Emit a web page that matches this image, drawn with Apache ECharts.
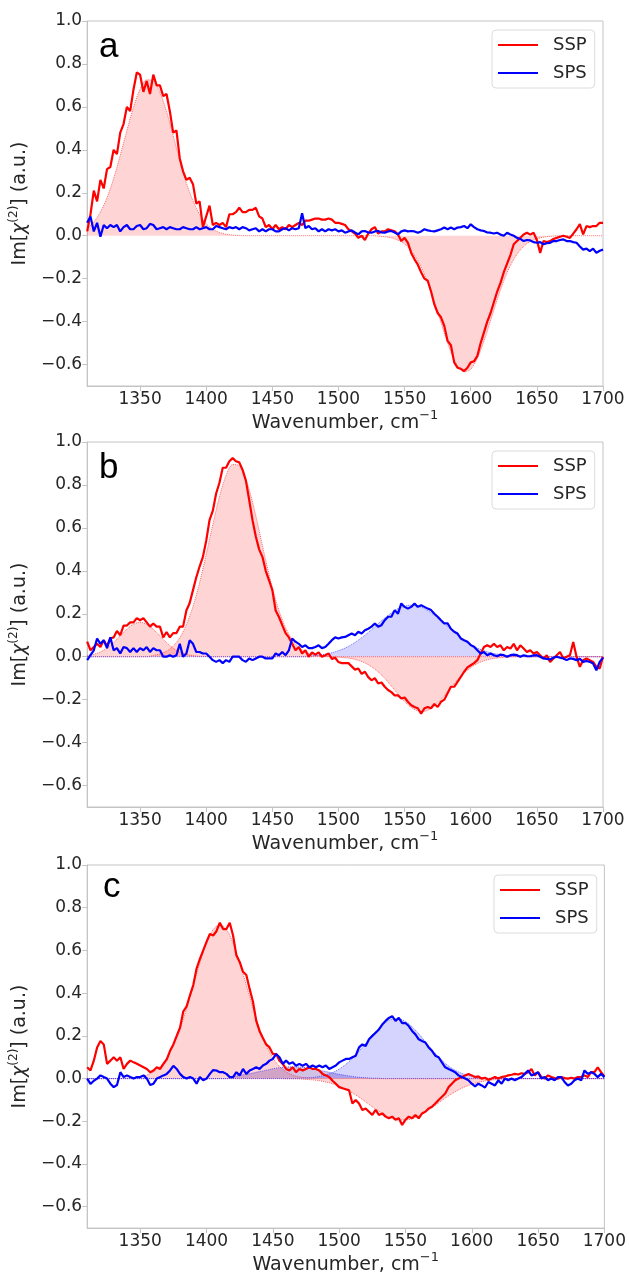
<!DOCTYPE html>
<html><head><meta charset="utf-8">
<script src="https://cdn.jsdelivr.net/npm/echarts@6/dist/echarts.min.js"></script>
<style>html,body{margin:0;padding:0;background:#fff}#chart{width:629px;height:1276px}</style>
</head><body><div id="chart"></div>
<script>
// ---- sampling of the spectra (cm^-1) ----
const WN_START = 1310, WN_STEP = 2.5;     // measured spectra
const FIT_START = 1310, FIT_STEP = 5;     // fitted bands
const xTicks = [1350, 1400, 1450, 1500, 1550, 1600, 1650, 1700];
const yTicks = [-0.6, -0.4, -0.2, 0.0, 0.2, 0.4, 0.6, 0.8, 1.0];
const panelLabels = ['a', 'b', 'c'];
const legendNames = ['SSP', 'SPS'];

// ---- panel a : measured ----
const aSSP = [
0.02,0.10,0.21,0.16,0.26,0.22,0.31,0.32,0.40,0.38,
0.48,0.52,0.60,0.58,0.68,0.76,0.75,0.67,0.72,0.66,
0.75,0.70,0.70,0.65,0.66,0.58,0.48,0.49,0.36,0.30,
0.26,0.27,0.24,0.15,0.16,0.04,0.09,0.14,0.05,0.06,
0.05,0.06,0.04,0.10,0.10,0.11,0.13,0.11,0.11,0.12,
0.12,0.13,0.09,0.08,0.04,0.05,0.03,0.05,0.03,0.04,
0.03,0.05,0.04,0.05,0.06,0.05,0.07,0.07,0.075,0.08,
0.08,0.075,0.075,0.08,0.075,0.06,0.06,0.055,0.05,0.03,
0.02,0.01,-0.01,0.0,-0.02,0.01,0.03,0.04,0.01,0.02,
0.02,0.03,0.025,0.02,0.006,-0.025,-0.01,-0.033,-0.08,-0.11,
-0.135,-0.17,-0.20,-0.21,-0.26,-0.32,-0.36,-0.38,-0.42,-0.49,
-0.51,-0.59,-0.615,-0.62,-0.63,-0.615,-0.59,-0.585,-0.56,-0.50,
-0.45,-0.40,-0.36,-0.31,-0.26,-0.22,-0.17,-0.13,-0.09,-0.04,
-0.025,-0.01,0.006,0.014,0.005,0.014,-0.02,-0.08,-0.025,-0.03,
-0.025,-0.015,-0.01,-0.005,0.0,-0.005,-0.01,0.01,0.03,0.054,
0.006,0.045,0.04,0.045,0.045,0.06,0.06];
const aSPS = [
0.06,0.09,0.02,0.06,-0.005,0.05,0.035,0.05,0.04,0.05,
0.02,0.04,0.05,0.03,0.03,0.045,0.05,0.03,0.035,0.055,
0.05,0.03,0.035,0.04,0.03,0.04,0.035,0.03,0.03,0.04,
0.035,0.03,0.03,0.04,0.03,0.035,0.04,0.03,0.03,0.045,
0.04,0.035,0.03,0.04,0.035,0.04,0.03,0.04,0.035,0.025,
0.03,0.035,0.02,0.03,0.02,0.03,0.03,0.02,0.02,0.03,
0.035,0.025,0.035,0.03,0.035,0.105,0.035,0.045,0.03,0.035,
0.02,0.03,0.02,0.03,0.025,0.03,0.02,0.025,0.014,0.02,
0.025,0.015,0.006,0.02,0.022,0.015,0.014,0.02,0.022,0.015,
0.014,0.02,0.022,0.015,0.006,0.02,0.025,0.02,0.022,0.02,
0.014,0.02,0.03,0.025,0.022,0.02,0.025,0.03,0.038,0.03,
0.038,0.03,0.038,0.04,0.045,0.035,0.053,0.04,0.03,0.025,
0.022,0.015,0.014,0.01,0.014,0.005,0.0,0.014,0.006,0.0,
-0.01,-0.015,-0.025,-0.02,-0.022,-0.03,-0.033,-0.03,-0.04,-0.035,
-0.033,-0.025,-0.025,-0.02,-0.017,-0.025,-0.025,-0.03,-0.033,-0.05,
-0.065,-0.06,-0.072,-0.06,-0.08,-0.07,-0.065];
// ---- panel a : fit ----
const aFitSSP = [
0.034,0.063,0.110,0.177,0.266,0.374,0.489,0.598,0.682,0.726,
0.721,0.668,0.578,0.466,0.351,0.246,0.162,0.099,0.056,0.030,
0.015,0.007,0.003,0.001,
0,0,0,0,0,0,0,0,0,0,0,0,0,0,0,0,0,0,0,0,
-0.002,-0.005,-0.010,-0.021,-0.039,-0.070,-0.116,-0.180,-0.261,-0.356,
-0.453,-0.542,-0.606,-0.634,-0.622,-0.571,-0.491,-0.395,-0.298,-0.210,
-0.139,-0.086,-0.050,-0.027,-0.014,-0.007,-0.003,-0.001,
0,0,0,0,0,0,0];

// ---- panel b : measured ----
const bSSP = [
0.07,0.03,0.045,0.06,0.045,0.077,0.05,0.085,0.09,0.12,
0.10,0.145,0.145,0.16,0.16,0.18,0.17,0.18,0.16,0.14,
0.155,0.14,0.14,0.09,0.115,0.09,0.11,0.11,0.14,0.14,
0.215,0.25,0.31,0.37,0.42,0.465,0.54,0.636,0.68,0.76,
0.81,0.88,0.88,0.91,0.925,0.91,0.905,0.87,0.82,0.73,
0.636,0.56,0.50,0.465,0.40,0.356,0.31,0.215,0.185,0.147,
0.11,0.09,0.06,0.03,0.045,0.015,0.03,0.0,0.02,0.01,
0.02,0.0,0.007,0.015,-0.01,-0.005,-0.025,-0.03,-0.03,-0.03,
-0.045,-0.06,-0.055,-0.08,-0.07,-0.095,-0.11,-0.10,-0.125,-0.12,
-0.14,-0.155,-0.165,-0.18,-0.18,-0.195,-0.19,-0.21,-0.226,-0.234,
-0.24,-0.265,-0.24,-0.234,-0.24,-0.22,-0.234,-0.21,-0.20,-0.17,
-0.14,-0.14,-0.117,-0.094,-0.07,-0.05,-0.04,-0.03,-0.016,0.015,
0.045,0.053,0.045,0.06,0.045,0.053,0.03,0.045,0.038,0.06,
0.03,0.053,0.038,0.022,0.03,0.015,0.022,0.007,-0.008,0.007,
-0.025,-0.008,0.007,0.022,-0.008,0.0,0.007,0.069,0.0,-0.047,
-0.016,-0.008,-0.016,-0.024,-0.047,-0.055,0.0];
const bSPS = [
-0.016,0.007,0.03,0.085,0.06,0.077,0.04,0.09,0.03,0.04,
0.015,0.045,0.04,0.022,0.04,0.022,0.04,0.03,0.045,0.022,
0.04,0.03,0.03,0.0,0.0,0.007,0.0,0.007,0.06,0.0,
0.015,0.077,0.06,0.022,0.022,0.015,0.015,0.0,-0.016,-0.024,
-0.016,-0.03,-0.016,-0.024,0.0,0.0,0.0,-0.016,-0.024,-0.008,
-0.016,-0.008,0.0,0.0,-0.008,-0.008,-0.008,0.015,0.007,0.022,
0.007,0.03,0.085,0.07,0.06,0.045,0.053,0.04,0.04,0.045,
0.053,0.04,0.045,0.06,0.077,0.09,0.085,0.09,0.092,0.10,
0.108,0.10,0.116,0.108,0.123,0.13,0.14,0.155,0.14,0.147,
0.17,0.186,0.186,0.217,0.20,0.248,0.232,0.224,0.232,0.248,
0.232,0.24,0.232,0.224,0.217,0.20,0.186,0.17,0.155,0.155,
0.13,0.116,0.108,0.085,0.077,0.07,0.054,0.046,0.03,0.015,
0.022,0.007,0.015,0.007,0.002,0.01,0.007,0.0,0.007,0.01,
0.007,0.0,0.007,0.003,0.002,0.006,0.007,0.0,-0.008,-0.01,
-0.013,-0.005,0.0,-0.005,-0.008,-0.016,-0.008,-0.01,-0.016,-0.01,
-0.024,-0.02,-0.024,-0.032,-0.063,-0.024,-0.004];
// ---- panel b : fit ----
const bFitSSP1 = [
0.005,0.011,0.022,0.040,0.066,0.097,0.128,0.151,0.160,0.151,
0.128,0.097,0.066,0.040,0.022,0.011,0.005,0.002,0.001,
0,0,0,0,0,0,0,0,0,0,0,0,0,0,0,0,0,0,0,0,0,0,0,0,0,0,0,0,0,0,
0,0,0,0,0,0,0,0,0,0,0,0,0,0,0,0,0,0,0,0,0,0,0,0,0,0,0,0,0,0];
const bFitSSP2 = [
0,0,0,0,0,0,0,0,0,0,
0.006,0.013,0.026,0.049,0.088,0.149,0.234,0.345,0.476,0.615,
0.745,0.844,0.895,0.889,0.827,0.721,0.588,0.449,0.321,0.215,
0.135,0.079,0.043,0.022,0.011,0.005,0.002,0.0,-0.002,-0.005,
-0.009,-0.017,-0.029,-0.047,-0.071,-0.101,-0.137,-0.174,-0.209,-0.236,
-0.252,-0.254,-0.241,-0.215,-0.182,-0.144,-0.108,-0.076,-0.051,-0.032,
-0.019,-0.011,-0.006,-0.003,-0.001,
0,0,0,0,0,0,0,0,0,0,0,0,0,0];
const bFitSPS = [
0,0,0,0,0,0,0,0,0,0,0,0,0,0,0,0,0,0,0,0,0,0,0,0,0,0,0,0,0,0,0,0,0,0,
0.004,0.007,0.012,0.018,0.028,0.040,0.057,0.077,0.100,0.126,
0.154,0.180,0.204,0.224,0.236,0.240,0.236,0.224,0.204,0.180,
0.154,0.126,0.100,0.077,0.057,0.040,0.028,0.018,0.012,0.007,
0.004,0.002,0.001,
0,0,0,0,0,0,0,0,0,0,0,0];

// ---- panel c : measured ----
const cSSP = [
0.053,0.038,0.084,0.146,0.176,0.16,0.069,0.084,0.10,0.084,
0.10,0.045,0.069,0.084,0.076,0.069,0.061,0.053,0.045,0.03,
0.038,0.053,0.045,0.069,0.09,0.13,0.16,0.20,0.238,0.315,
0.338,0.39,0.438,0.515,0.56,0.60,0.64,0.677,0.67,0.69,
0.73,0.70,0.70,0.73,0.67,0.577,0.546,0.50,0.485,0.42,
0.36,0.27,0.222,0.19,0.16,0.146,0.115,0.115,0.084,0.069,
0.045,0.038,0.053,0.03,0.045,0.038,0.045,0.053,0.045,0.045,
0.038,0.022,0.015,0.007,-0.01,-0.024,-0.04,-0.045,-0.05,-0.055,
-0.117,-0.10,-0.117,-0.147,-0.14,-0.155,-0.17,-0.147,-0.17,-0.163,
-0.178,-0.186,-0.178,-0.193,-0.186,-0.217,-0.193,-0.178,-0.186,-0.17,
-0.186,-0.163,-0.155,-0.14,-0.132,-0.117,-0.10,-0.085,-0.07,-0.04,
-0.024,-0.008,0.0,0.007,0.015,0.022,0.015,0.007,0.01,0.0,
0.004,-0.006,0.0,0.007,0.0,0.007,0.01,0.015,0.018,0.022,
0.019,0.025,0.022,0.03,0.045,0.015,0.03,0.007,0.0,0.015,
0.007,0.002,0.0,0.007,0.002,0.0,0.004,0.0,0.007,0.007,
0.015,0.007,0.03,0.03,0.053,0.03,0.01];
const cSPS = [
0.0,-0.025,-0.01,0.0,0.015,0.007,0.0,-0.024,-0.04,-0.03,
0.03,0.007,0.015,0.007,0.0,0.007,0.007,0.015,0.0,-0.03,
-0.024,0.0,0.007,0.015,0.022,0.038,0.06,0.045,0.022,0.007,
0.0,0.007,0.0,-0.024,0.007,-0.008,0.0,0.022,0.04,0.038,
0.03,0.03,0.022,0.007,0.007,0.03,0.015,0.045,0.022,0.038,
0.045,0.053,0.045,0.061,0.069,0.084,0.092,0.115,0.10,0.069,
0.084,0.069,0.076,0.06,0.069,0.06,0.069,0.053,0.061,0.053,
0.061,0.053,0.061,0.045,0.053,0.061,0.076,0.084,0.092,0.092,
0.10,0.107,0.146,0.16,0.153,0.184,0.20,0.215,0.23,0.253,
0.27,0.284,0.292,0.27,0.284,0.26,0.26,0.246,0.223,0.207,
0.184,0.176,0.169,0.146,0.13,0.107,0.10,0.076,0.053,0.045,
0.038,0.03,0.015,0.007,0.0,-0.008,-0.024,-0.036,-0.024,-0.032,
-0.042,-0.016,-0.024,-0.032,-0.008,-0.024,0.0,-0.008,0.0,-0.008,
0.0,0.007,0.022,0.038,0.015,0.022,0.03,0.0,0.007,-0.008,
0.0,-0.008,0.007,0.007,-0.016,-0.032,-0.024,-0.008,0.0,-0.008,
0.038,0.022,0.03,0.022,0.007,0.022,0.007];
// ---- panel c : fit ----
const cFitSSP1 = [
0,0,0,0,0,0,
0.002,0.004,0.008,0.016,0.032,0.057,0.097,0.156,0.234,0.330,
0.437,0.543,0.635,0.698,0.720,0.698,0.635,0.543,0.437,0.330,
0.234,0.156,0.097,0.057,0.032,0.016,0.008,0.004,0.002,
0,0,0,0,0,0,0,0,0,0,0,0,0,0,0,0,0,0,0,0,0,0,0,0,0,0,0,0,0,0,0,0,0,0,0,0,0,0,0,0,0,0,0,0];
const cFitSSP2 = [
0,0,0,0,0,0,0,0,0,0,0,0,0,0,0,0,0,0,0,0,0,0,0,0,0,0,0,0,0,0,
-0.001,-0.001,-0.002,-0.004,-0.006,-0.010,-0.016,-0.024,-0.035,-0.050,
-0.067,-0.087,-0.109,-0.132,-0.153,-0.172,-0.186,-0.194,-0.194,-0.188,
-0.175,-0.157,-0.136,-0.114,-0.091,-0.071,-0.053,-0.038,-0.026,-0.018,
-0.011,-0.007,-0.004,-0.002,-0.001,
0,0,0,0,0,0,0,0,0,0,0,0,0,0];
const cFitSPS1 = [
0,0,0,0,0,0,0,0,0,0,0,0,0,0,0,0,0,0,0,0,0,0,
0.010,0.015,0.020,0.026,0.033,0.039,0.046,0.051,0.054,0.055,
0.054,0.051,0.046,0.039,0.033,0.026,0.020,0.015,0.010,0.006,
0.004,0.002,0.001,
0,0,0,0,0,0,0,0,0,0,0,0,0,0,0,0,0,0,0,0,0,0,0,0,0,0,0,0,0,0,0,0,0,0];
const cFitSPS2 = [
0,0,0,0,0,0,0,0,0,0,0,0,0,0,0,0,0,0,0,0,0,0,0,0,0,0,0,0,0,0,0,0,
0.001,0.003,0.005,0.010,0.017,0.028,0.044,0.066,0.094,0.128,
0.165,0.203,0.236,0.263,0.278,0.279,0.267,0.242,0.210,0.173,
0.135,0.101,0.071,0.048,0.031,0.019,0.011,0.006,0.003,0.001,
0,0,0,0,0,0,0,0,0,0,0,0,0,0,0,0,0];

// ---------------- build chart ----------------
const RED = '#ff0000', BLUE = '#0000ff';
const RED_FILL = 'rgba(255,0,0,0.17)', BLUE_FILL = 'rgba(0,0,255,0.17)', PURPLE_FILL = 'rgba(100,50,170,0.3)';
const RED_FIT = 'rgba(255,60,60,0.75)', BLUE_FIT = 'rgba(60,60,255,0.75)';
const FONT = '"DejaVu Sans", sans-serif';
const TXT = '#262626', SPINE = '#c4c4c4';

function pairs(start, step, ys) { return ys.map((y, i) => [start + step * i, y]); }

const grids = [
  {left: 82, top: 21, width: 521, height: 365},
  {left: 82, top: 442, width: 521, height: 365},
  {left: 83, top: 865, width: 523, height: 368}
];
const legendPos = [{left: 492, top: 30}, {left: 492, top: 451}, {left: 494, top: 875}];
const letterPos = [{x: 99, y: 47}, {x: 99, y: 468}, {x: 103, y: 887}];

const panels = [
  {ssp: aSSP, sps: aSPS, fits: [[aFitSSP, RED_FIT, RED_FILL]]},
  {ssp: bSSP, sps: bSPS, fits: [[bFitSSP1, RED_FIT, RED_FILL], [bFitSSP2, RED_FIT, RED_FILL], [bFitSPS, BLUE_FIT, BLUE_FILL]]},
  {ssp: cSSP, sps: cSPS, fits: [[cFitSSP1, RED_FIT, RED_FILL], [cFitSSP2, RED_FIT, RED_FILL], [cFitSPS1, BLUE_FIT, PURPLE_FILL], [cFitSPS2, BLUE_FIT, BLUE_FILL]]}
];

const fmtY = v => { const s = Math.abs(v) < 1e-9 ? '0.0' : v.toFixed(1); return s.replace('-', '\u2212'); };
const fmtX = v => String(Math.round(v));

const xAxis = grids.map((g, i) => ({
  type: 'value', gridIndex: i, min: 1310, max: 1700,
  name: '{a|Wavenumber, cm}{s|\u22121}', nameLocation: 'middle', nameGap: 18,
  nameTextStyle: {fontFamily: FONT, fontSize: 19, color: TXT,
    rich: {
      a: {fontFamily: FONT, fontSize: 19, color: TXT, lineHeight: 24, verticalAlign: 'bottom'},
      s: {fontFamily: FONT, fontSize: 13, color: TXT, lineHeight: 15, verticalAlign: 'top'}
    }},
  axisLine: {show: true, onZero: false, lineStyle: {color: SPINE, width: 1}},
  axisTick: {show: true, length: 5, inside: false, lineStyle: {color: SPINE}, customValues: xTicks},
  axisLabel: {fontFamily: FONT, fontSize: 17, color: TXT, margin: 5, formatter: fmtX, customValues: xTicks},
  splitLine: {show: false}
}));
const yAxis = grids.map((g, i) => ({
  type: 'value', gridIndex: i, min: -0.7, max: 1.0,
  name: '{a|Im[}{i|\u03C7}{s|(2)}{a|] (a.u.)}', nameLocation: 'middle', nameGap: 47, nameRotate: 90,
  nameTextStyle: {fontFamily: FONT, fontSize: 19, color: TXT,
    rich: {
      a: {fontFamily: FONT, fontSize: 19, color: TXT, lineHeight: 22, verticalAlign: 'bottom'},
      i: {fontFamily: FONT, fontSize: 19, fontStyle: 'italic', color: TXT, lineHeight: 22, verticalAlign: 'bottom'},
      s: {fontFamily: FONT, fontSize: 12, color: TXT, lineHeight: 14, verticalAlign: 'top'}
    }},
  axisLine: {show: true, lineStyle: {color: SPINE, width: 1}},
  axisTick: {show: true, length: 5, inside: false, lineStyle: {color: SPINE}, customValues: yTicks},
  axisLabel: {fontFamily: FONT, fontSize: 17, color: TXT, margin: 5, formatter: fmtY, customValues: yTicks},
  splitLine: {show: false}
}));

const series = [];
panels.forEach((p, i) => {
  p.fits.forEach((f, k) => {
    series.push({
      type: 'line', name: 'fit' + i + '_' + k, xAxisIndex: i, yAxisIndex: i,
      data: pairs(FIT_START, FIT_STEP, f[0]), smooth: 0.3, symbol: 'none', silent: true,
      lineStyle: {color: f[1], width: 1, type: 'dotted'},
      areaStyle: {color: f[2], opacity: 1}, z: 1
    });
  });
  series.push({type: 'line', name: 'SSP', color: RED, xAxisIndex: i, yAxisIndex: i,
    data: pairs(WN_START, WN_STEP, p.ssp), symbol: 'none', lineStyle: {color: RED, width: 2.2}, z: 3});
  series.push({type: 'line', name: 'SPS', color: BLUE, xAxisIndex: i, yAxisIndex: i,
    data: pairs(WN_START, WN_STEP, p.sps), symbol: 'none', lineStyle: {color: BLUE, width: 2.2}, z: 3});
});

const legend = legendPos.map(pos => ({
  left: pos.left, top: pos.top, orient: 'vertical', data: legendNames,
  icon: 'rect', itemWidth: 40, itemHeight: 2, itemGap: 8,
  padding: [5, 8, 5, 6], backgroundColor: '#fff', borderColor: '#dcdcdc', borderWidth: 1, borderRadius: 4,
  textStyle: {fontFamily: FONT, fontSize: 18, color: TXT, padding: [0, 0, 0, 10], lineHeight: 20},
  selectedMode: false
}));

const graphic = panelLabels.map((t, i) => ({
  type: 'text', x: letterPos[i].x, y: letterPos[i].y,
  style: {text: t, font: '35px "Liberation Sans", Arial, sans-serif', fill: '#000', verticalAlign: 'middle', align: 'left'}
}));

const chart = echarts.init(document.getElementById('chart'), null, {renderer: 'canvas'});
chart.setOption({
  animation: false, backgroundColor: '#fff',
  grid: grids.map(g => Object.assign({show: true, borderColor: SPINE, borderWidth: 1, backgroundColor: 'transparent'}, g)),
  xAxis, yAxis, series, legend, graphic
});
</script></body></html>
